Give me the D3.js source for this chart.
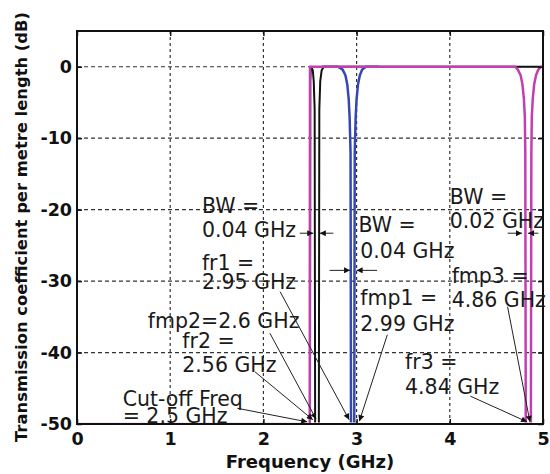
<!DOCTYPE html>
<html>
<head>
<meta charset="utf-8">
<script src="https://cdn.jsdelivr.net/npm/d3@7"></script>
<style>
body { margin: 0; background: #fff; }
svg { display: block; font-family: "DejaVu Sans", sans-serif; }
</style>
</head>
<body>
<svg id="chart" width="550" height="474"></svg>
<script>
// axis ticks
var freqTicks = [0, 1, 2, 3, 4, 5];          // GHz
var levelTicks = [0, -10, -20, -30, -40, -50]; // dB

// curves, [GHz, dB]
var blackCurve = [
    [0, -50], [2.5, -50], [2.503, -2], [2.51, 0], [2.53, -0.5], [2.54, -2], [2.55, -6],
    [2.555, -50], [2.595, -50], [2.6, -6], [2.61, -2], [2.625, -0.5], [2.65, 0], [5, 0]
];
var blueCurve = [
    [2.63, 0], [2.8, 0], [2.85, -0.4], [2.88, -1.2], [2.9, -2.5], [2.915, -4.5], [2.925, -7],
    [2.935, -12], [2.94, -50], [2.975, -50], [2.98, -12], [2.99, -7], [3.0, -4.5],
    [3.015, -2.5], [3.035, -1.2], [3.06, -0.4], [3.1, 0], [3.24, 0]
];
var magentaCurve = [
    [0, -50], [2.497, -50], [2.5, 0], [4.7, 0], [4.73, -0.4], [4.76, -1.2], [4.78, -2.5],
    [4.795, -4.5], [4.805, -7], [4.81, -12], [4.815, -50], [4.87, -50], [4.875, -12],
    [4.88, -7], [4.89, -4.5], [4.905, -2.5], [4.925, -1.2], [4.95, -0.4], [4.98, 0], [5, 0]
];

// annotation texts: lines, anchored at [GHz, dB] per line
var noteTexts = [
    { lines: ["BW =", "0.04 GHz"], at: [[1.34, -20.5], [1.34, -23.8]] },
    { lines: ["fr1 =", "2.95 GHz"], at: [[1.34, -28.5], [1.34, -31.1]] },
    { lines: ["fmp2=2.6 GHz"], at: [[0.76, -36.6]] },
    { lines: ["fr2 =", "2.56 GHz"], at: [[1.13, -39.4], [1.13, -42.7]] },
    { lines: ["Cut-off Freq", "= 2.5 GHz"], at: [[0.49, -47.5], [0.49, -49.9]] },
    { lines: ["BW =", "0.04 GHz"], at: [[3.02, -23.1], [3.04, -26.8]] },
    { lines: ["fmp1 =", "2.99 GHz"], at: [[3.04, -33.3], [3.04, -37.0]] },
    { lines: ["BW =", "0.02 GHz"], at: [[4.0, -19.2], [4.0, -22.6]] },
    { lines: ["fmp3 =", "4.86 GHz"], at: [[4.02, -30.3], [4.02, -33.6]] },
    { lines: ["fr3 =", "4.84 GHz"], at: [[3.52, -42.3], [3.52, -45.8]] }
];
// arrows: [from GHz, from dB, to GHz, to dB]
var noteArrows = [
    [1.72, -47.8, 2.47, -49.7],
    [1.91, -42.7, 2.53, -49.4],
    [2.07, -37.3, 2.565, -49.3],
    [2.18, -31.5, 2.92, -49.4],
    [3.33, -37.5, 3.03, -49.6],
    [4.22, -46.1, 4.83, -49.7],
    [4.62, -33.6, 4.86, -49.7],
    [2.39, -23.3, 2.535, -23.3],
    [2.75, -23.3, 2.605, -23.3],
    [2.71, -28.5, 2.93, -28.5],
    [3.22, -28.5, 3.0, -28.5],
    [4.62, -23.3, 4.775, -23.3],
    [4.95, -23.3, 4.84, -23.3]
];

var plotL = 77, plotR = 543, plotT = 31, plotB = 424;
var svg = d3.select("#chart");

var x = d3.scaleLinear().domain([0, 5]).range([plotL, plotR]);
var y = d3.scaleLinear().domain([-50, 5]).range([plotB, plotT]);

// clip so curves lying on -50 dB hide under the frame
svg.append("defs").append("clipPath").attr("id", "plotClip")
    .append("rect").attr("x", plotL).attr("y", plotT)
    .attr("width", plotR - plotL).attr("height", plotB - plotT - 1.6);

// grid
var grid = svg.append("g").attr("stroke", "#333").attr("stroke-width", 1.2);
grid.selectAll(".vg").data(freqTicks.slice(1, -1)).enter().append("line")
    .attr("x1", function (d) { return x(d); }).attr("x2", function (d) { return x(d); })
    .attr("y1", plotT).attr("y2", plotB).attr("stroke-dasharray", "3,3");
grid.selectAll(".hg").data(levelTicks.slice(0, -1)).enter().append("line")
    .attr("x1", plotL).attr("x2", plotR)
    .attr("y1", function (d) { return y(d); }).attr("y2", function (d) { return y(d); })
    .attr("stroke-dasharray", "4,3");

// curves
var line = d3.line().x(function (d) { return x(d[0]); }).y(function (d) { return y(d[1]); });
var curves = [
    { data: blackCurve, color: "#111", width: 2 },
    { data: blueCurve, color: "#3447b5", width: 2.5 },
    { data: magentaCurve, color: "#c23fae", width: 2.5 }
];
svg.append("g").attr("clip-path", "url(#plotClip)")
    .selectAll("path").data(curves).enter().append("path")
    .attr("d", function (d) { return line(d.data); })
    .attr("fill", "none")
    .attr("stroke", function (d) { return d.color; })
    .attr("stroke-width", function (d) { return d.width; })
    .attr("stroke-linejoin", "round");

// axes, ticks pointing inward as in matlab
var tickFont = function (g) {
    g.select(".domain").remove();
    g.selectAll("text").attr("font-family", "DejaVu Sans").attr("font-weight", "bold")
        .attr("font-size", 17.5).attr("fill", "#111");
    g.selectAll("line").attr("stroke", "#111").attr("stroke-width", 1.5);
};
var plainNum = function (d) { return String(d); };
svg.append("g").attr("transform", "translate(0," + plotB + ")")
    .call(d3.axisBottom(x).tickValues(freqTicks).tickFormat(plainNum).tickSize(-5).tickPadding(9))
    .call(tickFont);
svg.append("g").attr("transform", "translate(" + plotL + ",0)")
    .call(d3.axisLeft(y).tickValues(levelTicks).tickFormat(plainNum).tickSize(-5).tickPadding(5))
    .call(tickFont);
svg.append("g").attr("transform", "translate(0," + plotT + ")")
    .call(d3.axisTop(x).tickValues(freqTicks).tickFormat("").tickSize(-5))
    .call(tickFont);
svg.append("g").attr("transform", "translate(" + plotR + ",0)")
    .call(d3.axisRight(y).tickValues(levelTicks).tickFormat("").tickSize(-5))
    .call(tickFont);

svg.append("rect").attr("x", plotL).attr("y", plotT)
    .attr("width", plotR - plotL).attr("height", plotB - plotT)
    .attr("fill", "none").attr("stroke", "#111").attr("stroke-width", 2);

// axis titles
svg.append("text").attr("x", (plotL + plotR) / 2).attr("y", 468)
    .attr("text-anchor", "middle").attr("font-weight", "bold").attr("font-size", 18)
    .attr("fill", "#111").text("Frequency (GHz)");
svg.append("text").attr("transform", "translate(27,227) rotate(-90)")
    .attr("text-anchor", "middle").attr("font-weight", "bold").attr("font-size", 16.5)
    .attr("textLength", 430).attr("lengthAdjust", "spacingAndGlyphs")
    .attr("fill", "#111").text("Transmission coefficient per metre length (dB)");

// annotations
svg.select("defs").append("marker")
    .attr("id", "head").attr("viewBox", "0 0 10 10").attr("refX", 10).attr("refY", 5)
    .attr("markerWidth", 8).attr("markerHeight", 6).attr("markerUnits", "userSpaceOnUse")
    .attr("orient", "auto")
    .append("path").attr("d", "M0,0 L10,5 L0,10 z").attr("fill", "#111");

svg.append("g").selectAll("line").data(noteArrows).enter().append("line")
    .attr("x1", function (d) { return x(d[0]); }).attr("y1", function (d) { return y(d[1]); })
    .attr("x2", function (d) { return x(d[2]); }).attr("y2", function (d) { return y(d[3]); })
    .attr("stroke", "#222").attr("stroke-width", 1)
    .attr("marker-end", "url(#head)");

var notes = svg.append("g").attr("font-size", 20.5).attr("fill", "#1a1a1a");
noteTexts.forEach(function (n) {
    n.lines.forEach(function (t, i) {
        notes.append("text").attr("x", x(n.at[i][0])).attr("y", y(n.at[i][1])).text(t);
    });
});
</script>
</body>
</html>
